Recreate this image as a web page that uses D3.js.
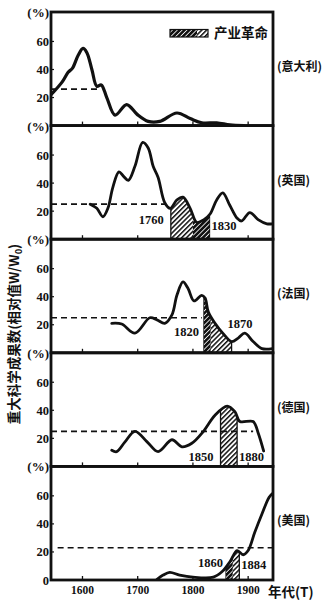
<!DOCTYPE html>
<html>
<head>
<meta charset="utf-8">
<script src="https://cdn.jsdelivr.net/npm/d3@7/dist/d3.min.js"></script>
<style>
  html, body { margin: 0; padding: 0; background: #fff; }
  svg { display: block; }
  .num { font-family: "Liberation Serif", "DejaVu Serif", serif; font-weight: bold; fill: #111; }
  .cjk { font-family: "Noto Sans CJK SC", "Noto Sans", sans-serif; font-weight: bold; fill: #111; }
</style>
</head>
<body>
<svg id="chart" width="336" height="612"></svg>
<script>
// Countries, top to bottom
const countries = ["(意大利)", "(英国)", "(法国)", "(德国)", "(美国)"];

// Share of major scientific achievements (%) by year, per country
const italyYears  = [1543, 1563, 1574, 1582, 1592, 1601, 1608, 1617, 1626, 1634, 1644, 1659, 1680, 1699, 1719, 1740, 1771, 1795, 1816, 1843, 1867, 1892];
const italyValues = [22, 31, 38, 41, 50, 55, 52, 40, 28, 29, 20, 7.5, 15, 8, 3, 3, 9, 5, 2, 2, 0.5, 0];

const britainYears  = [1614, 1626, 1637, 1646, 1655, 1666, 1674, 1683, 1695, 1709, 1719, 1728, 1737, 1749, 1759, 1771, 1782, 1795, 1807, 1820, 1831, 1843, 1854, 1867, 1880, 1888, 1903, 1918, 1934, 1944];
const britainValues = [25, 22, 16, 22, 37, 48, 45, 42, 52, 69, 65, 52, 44, 26, 22, 28, 30, 22, 12, 14, 18, 28, 33, 24, 15, 13, 19, 14, 11, 11];

const franceYears  = [1653, 1671, 1695, 1722, 1735, 1749, 1762, 1771, 1782, 1791, 1802, 1816, 1822, 1828, 1840, 1854, 1870, 1882, 1894, 1909, 1925, 1944];
const franceValues = [21, 20.5, 14, 25, 23.5, 21, 27, 41, 50.5, 46, 37, 41, 39, 29, 21, 14, 8, 10.5, 14, 8, 3, 3];

const germanyYears  = [1653, 1662, 1677, 1695, 1717, 1737, 1762, 1780, 1798, 1818, 1840, 1862, 1876, 1885, 1909, 1918, 1928];
const germanyValues = [11.5, 10.5, 17.5, 25, 17.5, 10.5, 19, 14, 16.5, 24.5, 36.5, 43, 39, 32, 32, 24, 11];

const usaYears  = [1735, 1746, 1758, 1776, 1800, 1837, 1853, 1867, 1880, 1891, 1900, 1912, 1925, 1938, 1945];
const usaValues = [0.5, 3.5, 5.5, 3.5, 2, 2, 6, 13, 21, 18, 21, 34, 47, 59, 62];

// Dashed reference level (%) and the span of years it covers
const thresholdValues = [26, 25, 25, 25, 23];
const thresholdFrom   = [1543, 1543, 1543, 1543, 1555];
const thresholdTo     = [1632, 1750, 1816, 1909, 1945];

// Industrial revolution periods (null = none shown)
const revolutionStart = [null, 1760, 1820, 1850, 1860];
const revolutionEnd   = [null, 1830, 1870, 1880, 1884];
const denseStart      = [null, 1800, 1820, null, 1860];
const denseEnd        = [null, 1830, 1832, null, 1872];

// Axis ticks
const yTicks = [20, 40, 60];
const xTicks = [1600, 1700, 1800, 1900];

const series = [
  { years: italyYears, values: italyValues },
  { years: britainYears, values: britainValues },
  { years: franceYears, values: franceValues },
  { years: germanyYears, values: germanyValues },
  { years: usaYears, values: usaValues }
];

// ---- layout ----
const left = 51, right = 273, top0 = 12, panelH = 113.6;
const svg = d3.select("#chart");

const x = d3.scaleLinear().domain([1543, 1945]).range([left, right]);

const defs = svg.append("defs");
// diagonal hatch
const hatch = defs.append("pattern").attr("id", "hatch")
  .attr("patternUnits", "userSpaceOnUse").attr("width", 3.4).attr("height", 3.4)
  .attr("patternTransform", "rotate(45)");
hatch.append("rect").attr("width", 3.4).attr("height", 3.4).attr("fill", "#fff");
hatch.append("rect").attr("x", 0).attr("y", 0).attr("width", 1.5).attr("height", 3.4).attr("fill", "#111");
// dark hatch: black with thin white diagonals
const dense = defs.append("pattern").attr("id", "dense")
  .attr("patternUnits", "userSpaceOnUse").attr("width", 3.4).attr("height", 3.4)
  .attr("patternTransform", "rotate(45)");
dense.append("rect").attr("width", 3.4).attr("height", 3.4).attr("fill", "#111");
dense.append("rect").attr("x", 0).attr("y", 0).attr("width", 0.8).attr("height", 3.4).attr("fill", "#fff");

// annotation label placement: [year, dx, anchor, dy from baseline]
const annoLayout = [
  null,
  [[1760, -7, "end", -15], [1830, 2, "start", -9]],
  [[1820, -5, "end", -17], [1870, -4, "start", -25]],
  [[1850, -7, "end", -5], [1880, 2, "start", -5]],
  [[1860, -3, "end", -13], [1884, 2, "start", -11]]
];

function valueAt(s, yr) {
  // sample the drawn curve at a given year
  const tmp = svg.append("path").attr("d",
    d3.line().x(d => d[0]).y(d => d[1]).curve(d3.curveCatmullRom.alpha(0.5))(s.years.map((v, k) => [x(v), s.values[k]])));
  const node = tmp.node(), len = node.getTotalLength();
  const target = x(yr);
  let lo = 0, hi = len;
  for (let n = 0; n < 40; n++) {
    const mid = (lo + hi) / 2;
    if (node.getPointAtLength(mid).x < target) lo = mid; else hi = mid;
  }
  const v = node.getPointAtLength(lo).y;
  tmp.remove();
  return v;
}

series.forEach((s, i) => {
  const pTop = top0 + i * panelH;
  const pBot = pTop + panelH;
  const y = d3.scaleLinear().domain([0, 81]).range([pBot, pTop]);
  const g = svg.append("g");
  const pts = s.years.map((yr, k) => [yr, s.values[k]]);

  const line = d3.line().x(d => x(d[0])).y(d => y(d[1])).curve(d3.curveCatmullRom.alpha(0.5));
  const area = d3.area().x(d => x(d[0])).y0(pBot).y1(d => y(d[1])).curve(d3.curveCatmullRom.alpha(0.5));

  // hatched revolution area under the curve
  if (revolutionStart[i] !== null) {
    const cid = "clipRev" + i;
    defs.append("clipPath").attr("id", cid).append("rect")
      .attr("x", x(revolutionStart[i])).attr("y", pTop)
      .attr("width", x(revolutionEnd[i]) - x(revolutionStart[i])).attr("height", panelH);
    g.append("path").datum(pts).attr("d", area)
      .attr("fill", "url(#hatch)").attr("clip-path", `url(#${cid})`);
    [revolutionStart[i], revolutionEnd[i]].forEach(yr => {
      g.append("line").attr("x1", x(yr)).attr("x2", x(yr)).attr("y1", pBot)
        .attr("y2", y(valueAt(s, yr))).attr("stroke", "#111").attr("stroke-width", 1.3);
    });
  }
  if (denseStart[i] !== null) {
    const cid = "clipDense" + i;
    defs.append("clipPath").attr("id", cid).append("rect")
      .attr("x", x(denseStart[i])).attr("y", pTop)
      .attr("width", x(denseEnd[i]) - x(denseStart[i])).attr("height", panelH);
    g.append("path").datum(pts).attr("d", area)
      .attr("fill", "url(#dense)").attr("clip-path", `url(#${cid})`);
  }

  // dashed reference level
  g.append("line")
    .attr("x1", x(thresholdFrom[i])).attr("x2", x(thresholdTo[i]))
    .attr("y1", y(thresholdValues[i])).attr("y2", y(thresholdValues[i]))
    .attr("stroke", "#111").attr("stroke-width", 1.6).attr("stroke-dasharray", "6,4");

  // data curve
  const clipC = "clipCurve" + i;
  defs.append("clipPath").attr("id", clipC).append("rect")
    .attr("x", left).attr("y", pTop).attr("width", right - left).attr("height", panelH);
  g.append("path").datum(pts).attr("d", line)
    .attr("fill", "none").attr("stroke", "#111").attr("stroke-width", i === 0 ? 3.2 : 2.8)
    .attr("stroke-linejoin", "round").attr("stroke-linecap", "round")
    .attr("clip-path", `url(#${clipC})`);

  // panel frame
  g.append("rect").attr("x", left).attr("y", pTop).attr("width", right - left).attr("height", panelH)
    .attr("fill", "none").attr("stroke", "#111").attr("stroke-width", 2.8);

  // y axis ticks and labels
  const ticks = i === 4 ? [0].concat(yTicks) : yTicks;
  ticks.forEach(t => {
    g.append("line").attr("x1", left).attr("x2", left + 3).attr("y1", y(t)).attr("y2", y(t))
      .attr("stroke", "#111").attr("stroke-width", 1.2);
    g.append("text").attr("class", "num").attr("x", left - 2).attr("y", y(t) + 4.5)
      .attr("text-anchor", "end").attr("font-size", 12.5).text(t);
  });
  g.append("text").attr("class", "num").attr("x", left - 2).attr("y", pTop + 5)
    .attr("text-anchor", "end").attr("font-size", 13).text("(%)");

  // x ticks along the panel bottom
  xTicks.forEach(t => {
    g.append("line").attr("x1", x(t)).attr("x2", x(t)).attr("y1", pBot).attr("y2", pBot - 4)
      .attr("stroke", "#111").attr("stroke-width", 1.3);
  });

  // country label
  g.append("text").attr("class", "cjk").attr("x", 277).attr("y", pTop + panelH * 0.52)
    .attr("font-size", 12).text(countries[i]);

  // revolution year labels
  if (annoLayout[i]) {
    annoLayout[i].forEach(([yr, dx, anchor, dy]) => {
      g.append("text").attr("class", "num").attr("x", x(yr) + dx).attr("y", pBot + dy)
        .attr("text-anchor", anchor).attr("font-size", 12.5).text(yr);
    });
  }
});

// bottom x labels
const bottom = top0 + 5 * panelH;
xTicks.forEach(t => {
  svg.append("text").attr("class", "num").attr("x", x(t)).attr("y", bottom + 14)
    .attr("text-anchor", "middle").attr("font-size", 11.5).text(t);
});
svg.append("text").attr("class", "cjk").attr("x", 268).attr("y", bottom + 17)
  .attr("font-size", 13.5).text("年代(T)");

// legend
const lg = svg.append("g");
lg.append("rect").attr("x", 170).attr("y", 29.5).attr("width", 27).attr("height", 7.5).attr("fill", "url(#dense)");
lg.append("rect").attr("x", 197).attr("y", 29.5).attr("width", 11).attr("height", 7.5).attr("fill", "url(#hatch)");
lg.append("rect").attr("x", 170).attr("y", 29.5).attr("width", 38).attr("height", 7.5)
  .attr("fill", "none").attr("stroke", "#111").attr("stroke-width", 1.2);
lg.append("text").attr("class", "cjk").attr("x", 214).attr("y", 38).attr("font-size", 13.5).text("产业革命");

// y axis title
const yt = svg.append("text").attr("class", "cjk").attr("font-size", 13.5)
  .attr("text-anchor", "middle")
  .attr("transform", "translate(19,334) rotate(-90)");
yt.append("tspan").text("重大科学成果数(相对值W/W");
yt.append("tspan").attr("font-size", 9).attr("dy", 3).text("0");
yt.append("tspan").attr("dy", -3).text(")");
</script>
</body>
</html>
